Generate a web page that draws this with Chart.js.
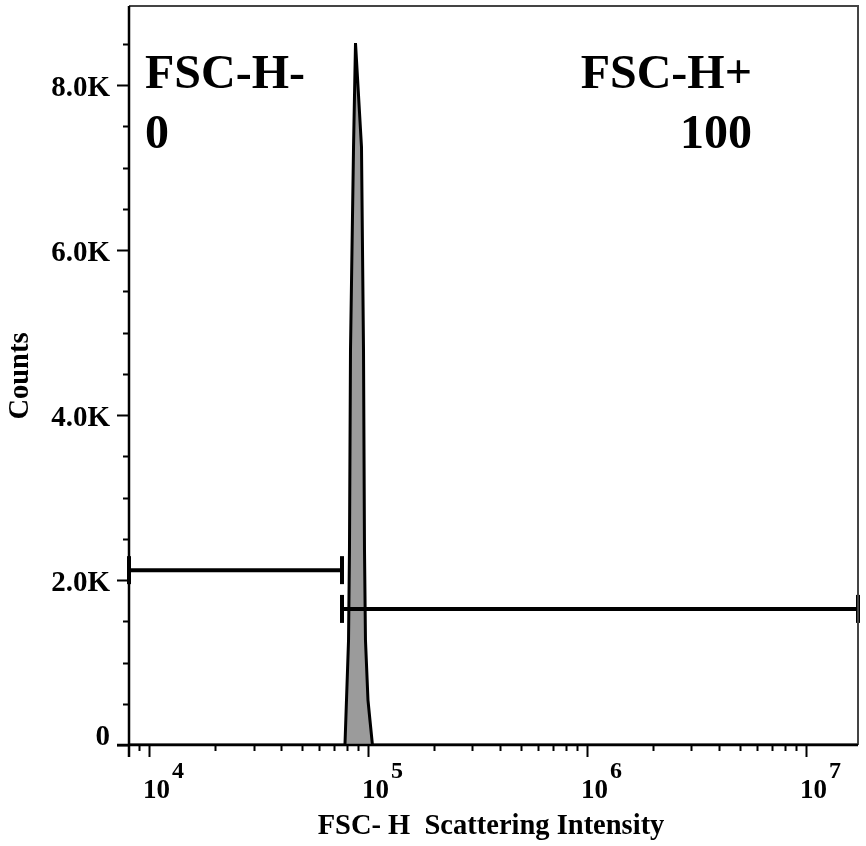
<!DOCTYPE html>
<html>
<head>
<meta charset="utf-8">
<script src="https://cdn.jsdelivr.net/npm/chart.js@4/dist/chart.umd.min.js"></script>
<style>
  body { margin: 0; background: #fff; }
  #wrap { width: 866px; height: 846px; position: relative; }
</style>
</head>
<body>
<div id="wrap"><canvas id="histChart"></canvas></div>
<script>
// histogram outline (FSC-H intensity vs counts)
const histIntensity = [8100, 78500, 81500, 82300, 83200, 85900, 87700, 93400, 95400, 96400, 97400, 100000, 102100, 104800, 17300000];
const histCounts    = [0,    0,     1270,  2360,  4790,  7250,  8510,  7250,  4790,  2360,  1270,  545,    300,    0,      0];

// gates
const gateNames    = ['FSC-H-', 'FSC-H+'];
const gatePercents = ['0', '100'];
const gateFrom     = [8100, 76100];
const gateTo       = [76100, 17300000];
const gateLevel    = [2120, 1650];

// axes
const xMin = 8100, xMax = 17300000;
const yMin = 0, yMax = 8960;
const xMajorTicks = [1e4, 1e5, 1e6, 1e7];
const xExponents  = ['4', '5', '6', '7'];
const yMajorTicks = [0, 2000, 4000, 6000, 8000];
const yTickLabels = ['0', '2.0K', '4.0K', '6.0K', '8.0K'];
const yMinorStep = 500;

const xTitle = 'FSC- H  Scattering Intensity';
const yTitle = 'Counts';

const FONT = "'Liberation Serif', 'Times New Roman', serif";

const datasets = [];
for (let i = 0; i < gateNames.length; i++) {
    datasets.push({
        label: gateNames[i],
        data: [{x: gateFrom[i], y: gateLevel[i]}, {x: gateTo[i], y: gateLevel[i]}],
        borderColor: '#000',
        borderWidth: 4,
        pointStyle: 'line',
        pointRotation: 90,
        pointRadius: 14,
        pointBorderWidth: 4,
        pointBorderColor: '#000',
        clip: false,
        order: 0
    });
}
datasets.push({
    label: 'FSC-H',
    data: histIntensity.map((v, i) => ({x: v, y: histCounts[i]})),
    borderColor: '#000',
    borderWidth: 3,
    backgroundColor: '#9b9b9b',
    fill: 'origin',
    pointRadius: 0,
    tension: 0,
    order: 1
});

// draws frame, ticks, labels and gate text
const framePlugin = {
    id: 'frame',
    afterDraw(chart) {
        const ctx = chart.ctx;
        const a = chart.chartArea;
        const xs = chart.scales.x, ys = chart.scales.y;
        ctx.save();

        // top / right border (grey)
        ctx.strokeStyle = '#444';
        ctx.lineWidth = 2;
        ctx.beginPath();
        ctx.moveTo(a.left, a.top);
        ctx.lineTo(a.right, a.top);
        ctx.lineTo(a.right, a.bottom);
        ctx.stroke();

        // axis lines
        ctx.strokeStyle = '#000';
        ctx.lineWidth = 2.5;
        ctx.beginPath();
        ctx.moveTo(a.left, a.top);
        ctx.lineTo(a.left, a.bottom + 12);
        ctx.moveTo(a.left - 12, a.bottom);
        ctx.lineTo(a.right, a.bottom);
        ctx.stroke();

        // y ticks
        ctx.lineWidth = 2;
        ctx.beginPath();
        for (let v = yMin; v <= yMax; v += yMinorStep) {
            const y = Math.round(ys.getPixelForValue(v)) + 0.5;
            const len = (v % 2000 === 0) ? 12 : 6;
            ctx.moveTo(a.left - len, y);
            ctx.lineTo(a.left, y);
        }
        ctx.stroke();

        // x ticks
        ctx.beginPath();
        for (let d = 1e3; d <= 1e7; d *= 10) {
            for (let m = 1; m <= 9; m++) {
                const v = d * m;
                if (v < xMin || v > xMax) continue;
                const x = Math.round(xs.getPixelForValue(v)) + 0.5;
                const len = (m === 1) ? 12 : 6;
                ctx.moveTo(x, a.bottom);
                ctx.lineTo(x, a.bottom + len);
            }
        }
        ctx.stroke();

        ctx.fillStyle = '#000';

        // y tick labels
        ctx.font = 'bold 29px ' + FONT;
        ctx.textAlign = 'right';
        ctx.textBaseline = 'middle';
        yMajorTicks.forEach((v, i) => {
            let y = ys.getPixelForValue(v) + 3;
            if (v === 0) y -= 10;
            ctx.fillText(yTickLabels[i], a.left - 19, y);
        });

        // x tick labels (10 with superscript exponent)
        ctx.textAlign = 'left';
        ctx.textBaseline = 'alphabetic';
        xMajorTicks.forEach((v, i) => {
            const x = xs.getPixelForValue(v) - 6;
            ctx.font = 'bold 27px ' + FONT;
            ctx.fillText('10', x, a.bottom + 53);
            const w = ctx.measureText('10').width;
            ctx.font = 'bold 24px ' + FONT;
            ctx.fillText(xExponents[i], x + w + 2, a.bottom + 33);
        });

        // axis titles
        ctx.font = 'bold 28.5px ' + FONT;
        ctx.textAlign = 'center';
        ctx.fillText(xTitle, 491, 834);
        ctx.save();
        ctx.translate(28, 376);
        ctx.rotate(-Math.PI / 2);
        ctx.fillText(yTitle, 0, 0);
        ctx.restore();

        // gate names and percentages
        ctx.font = 'bold 48px ' + FONT;
        ctx.textAlign = 'left';
        ctx.fillText(gateNames[0], 145, 88);
        ctx.fillText(gatePercents[0], 145, 148);
        ctx.textAlign = 'right';
        ctx.fillText(gateNames[1], 752, 88);
        ctx.fillText(gatePercents[1], 752, 148);

        ctx.restore();
    }
};

new Chart(document.getElementById('histChart'), {
    type: 'line',
    data: { datasets: datasets },
    options: {
        responsive: true,
        maintainAspectRatio: false,
        animation: false,
        layout: { autoPadding: false, padding: { left: 129, top: 6, right: 8, bottom: 101 } },
        plugins: { legend: { display: false }, tooltip: { enabled: false } },
        scales: {
            x: { type: 'logarithmic', min: xMin, max: xMax, display: false },
            y: { type: 'linear', min: yMin, max: yMax, display: false }
        }
    },
    plugins: [framePlugin]
});
</script>
</body>
</html>
